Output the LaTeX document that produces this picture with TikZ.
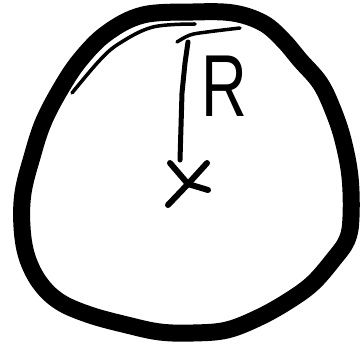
\documentclass[tikz,border=0pt]{standalone}
\usepackage{fontspec}
\setmainfont{Liberation Sans}
\begin{document}
\begin{tikzpicture}[x=1pt,y=-1pt,
  rim/.style={line width=17pt,line join=round,line cap=round},
  thinrim/.style={line width=3.5pt,line cap=round},
  pen/.style={line width=6pt,line cap=round,line join=round}]
\useasboundingbox (0,0) rectangle (361,356);
\draw[rim] plot[smooth cycle,tension=0.6] coordinates {
 (143,15) (193,12) (233,13) (263,23) (283,40) (300,60) (320,83) (333,110)
 (343,140) (350,177) (351,217) (347,240) (333,260) (313,283) (290,300)
 (260,317) (227,330) (193,333) (160,332) (127,325) (90,315) (60,302)
 (40,283) (27,257) (22,227) (23,193) (32,157) (43,123) (60,90) (80,60) (107,33)};
\draw[thinrim] plot[smooth,tension=0.6] coordinates {(72,93) (100,60) (120,43) (153,27) (195,24)};
\draw[thinrim] plot[smooth,tension=0.6] coordinates {(177,42) (190,35) (207,32) (240,28)};
\coordinate (top) at (188,42);
\coordinate (c) at (188,184);
\draw[pen,line width=5pt] (top) -- (185,63) -- (182,93) -- (180,160);
\draw[pen] (170,163) -- (c) -- (208,190);
\draw[pen] (207,163) -- (c) -- (168,205);
\node[font=\fontsize{88}{88}\selectfont,xscale=0.72,inner sep=0pt,anchor=center] (R) at (224,86) {R};
\end{tikzpicture}
\end{document}
